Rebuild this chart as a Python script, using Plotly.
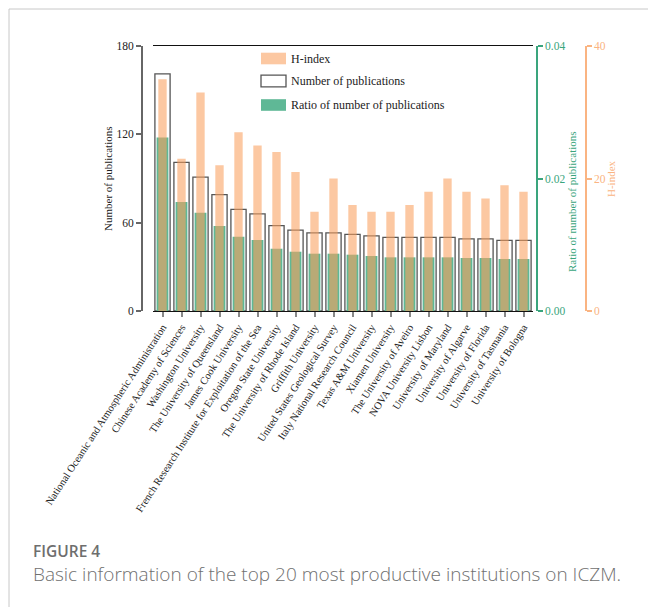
import plotly.graph_objects as go

W, H = 648, 609

institutions = [
    "National Oceanic and Atmospheric Administration",
    "Chinese Academy of Sciences",
    "Washington University",
    "The University of Queensland",
    "James Cook University",
    "French Research Institute for Exploitation of the Sea",
    "Oregon State University",
    "The University of Rhode Island",
    "Griffith University",
    "United States Geological Survey",
    "Italy National Research Council",
    "Texas A&M University",
    "Xiamen University",
    "The University of Aveiro",
    "NOVA University Lisbon",
    "University of Maryland",
    "University of Algarve",
    "University of Florida",
    "University of Tasmania",
    "University of Bologna",
]
publications = [161, 101, 91, 79, 69, 66, 58, 55, 53, 53, 52, 51, 50, 50, 50, 50, 49, 49, 48, 48]
ratio = [0.0262, 0.01645, 0.01484, 0.01283, 0.01122, 0.01072, 0.0094, 0.00895, 0.00865, 0.00865,
         0.0085, 0.0083, 0.0081, 0.0081, 0.0081, 0.0081, 0.0080, 0.0080, 0.00785, 0.00785]
h_index = [35, 23, 33, 22, 27, 25, 24, 21, 15, 20, 16, 15, 15, 16, 18, 20, 18, 17, 19, 18]

GREEN = "rgb(95,184,150)"
GREEN_AX = "rgb(58,165,125)"
ORANGE = "rgba(250,160,95,0.58)"
ORANGE_AX = "rgb(250,180,130)"
SERIF = "Liberation Serif"

def px(x):
    return x / W

def py(y):
    return 1 - y / H

fig = go.Figure()
fig.add_trace(go.Bar(x=institutions, y=publications, yaxis="y", width=0.8,
                     marker=dict(color="rgba(0,0,0,0)", line=dict(color="#555555", width=1.3)),
                     name="Number of publications", showlegend=False))
fig.add_trace(go.Bar(x=institutions, y=ratio, yaxis="y2", width=0.62,
                     marker=dict(color=GREEN, line=dict(width=0)),
                     name="Ratio of number of publications", showlegend=False))
fig.add_trace(go.Bar(x=institutions, y=h_index, yaxis="y3", width=0.44,
                     marker=dict(color=ORANGE, line=dict(width=0)),
                     name="H-index", showlegend=False))

ydom = [py(311), py(46)]

fig.update_layout(
    width=W, height=H,
    margin=dict(l=0, r=0, t=0, b=0),
    paper_bgcolor="white", plot_bgcolor="white",
    barmode="overlay",
    showlegend=False,
    xaxis=dict(domain=[px(153), px(533)], showline=True, mirror=True, linecolor="#111111",
               linewidth=1.2, ticks="outside", ticklen=5, tickwidth=2, tickcolor="#888888",
               tickangle=-57, tickfont=dict(family=SERIF, size=10.5, color="#222222"),
               showgrid=False, zeroline=False, automargin=False),
    yaxis=dict(domain=ydom, range=[0, 180], tickvals=[0, 60, 120, 180], anchor="free",
               position=px(142), showline=True, linecolor="#666666", linewidth=2,
               ticks="outside", ticklen=5, tickwidth=1.5, tickcolor="#666666",
               tickfont=dict(family=SERIF, size=11.5, color="#222222"),
               showgrid=False, zeroline=False, automargin=False),
    yaxis2=dict(overlaying="y", side="right", anchor="free", position=px(537),
                range=[0, 0.04], tickvals=[0, 0.02, 0.04], ticktext=["0.00", "0.02", "0.04"],
                showline=True, linecolor=GREEN_AX, linewidth=1.5, ticks="outside", ticklen=5,
                tickwidth=1.5, tickcolor=GREEN_AX,
                tickfont=dict(family=SERIF, size=11.5, color=GREEN_AX),
                showgrid=False, zeroline=False, automargin=False),
    yaxis3=dict(overlaying="y", side="right", anchor="free", position=px(586),
                range=[0, 40], tickvals=[0, 20, 40],
                showline=True, linecolor=ORANGE_AX, linewidth=1.5, ticks="outside", ticklen=5,
                tickwidth=1.5, tickcolor=ORANGE_AX,
                tickfont=dict(family=SERIF, size=11.5, color=ORANGE_AX),
                showgrid=False, zeroline=False, automargin=False),
)

shapes = []
annotations = []
# page border
shapes.append(dict(type="line", xref="paper", yref="paper", x0=px(9), x1=1, y0=py(9), y1=py(9),
                   line=dict(color="#c8c8c8", width=1)))
shapes.append(dict(type="line", xref="paper", yref="paper", x0=px(9), x1=px(9), y0=py(9), y1=py(607),
                   line=dict(color="#c8c8c8", width=1)))

# legend (manual)
legend_items = [
    ("H-index", 58.5, dict(fillcolor=ORANGE, line=dict(width=0))),
    ("Number of publications", 81, dict(fillcolor="white", line=dict(color="#555555", width=1.3))),
    ("Ratio of number of publications", 105, dict(fillcolor=GREEN, line=dict(width=0))),
]
for label, yc, style in legend_items:
    shapes.append(dict(type="rect", xref="paper", yref="paper", x0=px(261), x1=px(286),
                       y0=py(yc + 5.8), y1=py(yc - 5.8), **style))
    annotations.append(dict(text=label, xref="paper", yref="paper", x=px(289), y=py(yc),
                            xanchor="left", yanchor="middle", showarrow=False,
                            font=dict(family=SERIF, size=12, color="#222222")))

# axis titles
annotations.append(dict(text="Number of publications", xref="paper", yref="paper", x=px(108), y=py(179),
                        textangle=-90, showarrow=False, xanchor="center", yanchor="middle",
                        font=dict(family=SERIF, size=11, color="#222222")))
annotations.append(dict(text="Ratio of number of publications", xref="paper", yref="paper", x=px(572),
                        y=py(202), textangle=-90, showarrow=False, xanchor="center", yanchor="middle",
                        font=dict(family=SERIF, size=11, color=GREEN_AX)))
annotations.append(dict(text="H-index", xref="paper", yref="paper", x=px(611), y=py(179),
                        textangle=-90, showarrow=False, xanchor="center", yanchor="middle",
                        font=dict(family=SERIF, size=11, color=ORANGE_AX)))

# caption
annotations.append(dict(text="FIGURE 4", xref="paper", yref="paper", x=px(31), y=py(551),
                        xanchor="left", yanchor="middle", showarrow=False,
                        font=dict(family="Open Sans", size=15.5, color="#6e6e6e", weight=600)))
annotations.append(dict(text="Basic information of the top 20 most productive institutions on ICZM.",
                        xref="paper", yref="paper", x=px(31), y=py(574),
                        xanchor="left", yanchor="middle", showarrow=False,
                        font=dict(family="Open Sans", size=19, color="#707070", weight=300)))

fig.update_layout(shapes=shapes, annotations=annotations)
fig.write_html("out.html")
